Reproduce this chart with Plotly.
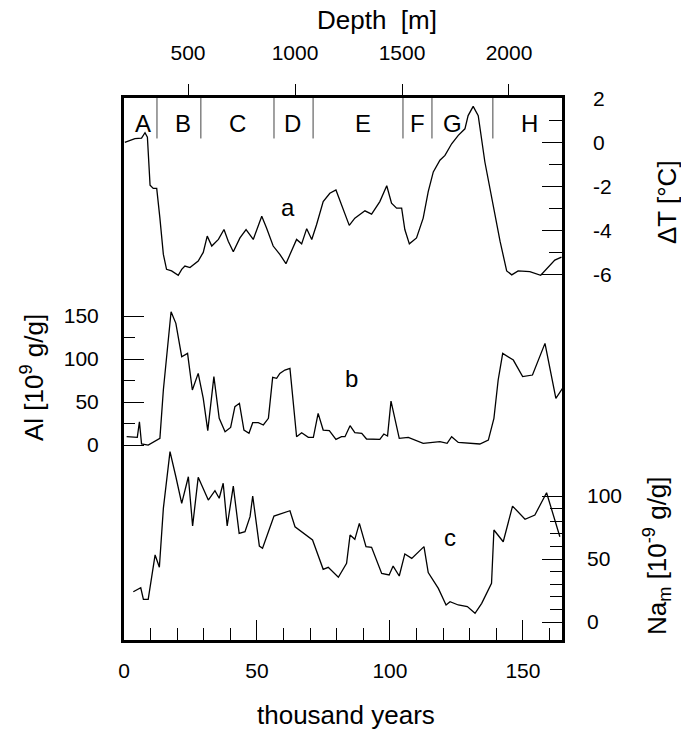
import plotly.graph_objects as go

# ---------------- data ----------------
# a: temperature anomaly dT [deg C] vs age [kyr]
t_dT = [0.3, 4.1, 6.6, 7.9, 8.8, 9.8, 11.0, 12.3, 13.5, 14.8, 16.0, 17.9, 20.4, 21.7, 22.9,
        24.8, 27.9, 29.8, 31.3, 33.0, 35.5, 37.6, 39.2, 41.1, 43.6, 45.9, 48.6, 51.8, 53.6,
        56.1, 58.6, 60.9, 62.4, 64.9, 66.8, 68.7, 70.6, 72.4, 74.9, 77.4, 79.7, 81.8, 84.7,
        86.8, 90.6, 93.1, 96.2, 98.8, 100.6, 102.5, 104.4, 105.6, 107.3, 110.0, 112.5, 114.4,
        116.3, 118.8, 120.7, 123.2, 125.7, 128.2, 129.4, 131.3, 133.2, 135.7, 138.8, 141.4,
        143.9, 145.8, 148.2, 152.6, 156.7, 158.9, 162.0, 164.5]
dT = [0.0, 0.17, 0.2, 0.44, 0.24, -1.94, -2.09, -2.09, -3.44, -5.09, -5.77, -5.84, -6.04,
      -5.77, -5.62, -5.69, -5.39, -5.0, -4.26, -4.71, -4.41, -3.96, -4.49, -4.97, -4.34,
      -3.96, -4.41, -3.36, -3.89, -4.71, -5.09, -5.51, -5.09, -4.41, -4.61, -3.92, -4.41,
      -3.74, -2.69, -2.31, -2.16, -2.84, -3.77, -3.44, -3.11, -3.26, -2.69, -1.97, -2.76,
      -2.99, -2.99, -3.96, -4.61, -4.34, -3.44, -2.24, -1.34, -0.81, -0.59, -0.06, 0.32,
      0.62, 1.22, 1.64, 1.22, -0.89, -2.84, -4.49, -5.84, -6.02, -5.84, -5.87, -6.04,
      -5.77, -5.35, -5.21]

# b: Al concentration [1e9 g/g]
t_al = [1.0, 5.0, 5.8, 6.6, 9.1, 12.3, 13.5, 14.8, 16.0, 17.7, 19.5, 21.7, 23.9, 25.7, 27.9,
        29.8, 31.5, 33.8, 35.8, 38.0, 40.1, 41.7, 43.4, 45.1, 47.0, 48.4, 50.5, 52.4, 54.3,
        55.9, 57.4, 58.6, 60.5, 62.4, 64.9, 66.8, 69.3, 71.2, 73.0, 74.9, 77.2, 79.7, 81.8,
        83.1, 85.0, 86.8, 89.4, 91.2, 96.2, 97.7, 99.1, 100.4, 103.5, 106.9, 112.5, 118.8,
        121.5, 123.2, 125.7, 133.8, 137.0, 139.1, 140.7, 142.4, 146.4, 149.9, 153.6, 158.3,
        162.4, 164.9]
al = [9.7, 8.9, 27, 1.2, 0, 5, 7.8, 64, 99, 155, 141.5, 102.7, 106.6, 64, 83.3, 54.3, 16.7,
      79.5, 31, 15.5, 20.5, 44.6, 48.5, 17.4, 13.6, 26, 26, 23.3, 31, 78.7, 77.5, 83.3, 87.2,
      89.1, 9.7, 14.3, 8.9, 8.9, 36.8, 17.4, 16.7, 6.6, 9.7, 9.7, 22.5, 14.3, 13.6, 7, 6.6,
      12.8, 10.5, 51, 7.8, 8.9, 2, 3.9, 2, 9.7, 3, 1.2, 5.8, 31, 75.6, 106.6, 98.8, 79.5,
      81.4, 118.2, 54.3, 65.9]

# c: marine Na [1e-9 g/g]
t_na = [3.5, 6.3, 7.3, 9.1, 11.7, 13.3, 14.8, 17.3, 19.5, 21.7, 24.2, 25.8, 27.9, 31.7, 34.2,
        35.8, 37.3, 38.8, 41.1, 43.3, 45.5, 47.4, 48.4, 49.9, 50.9, 52.1, 56.4, 62.4, 64.3,
        70.9, 74.9, 76.8, 80.6, 83.7, 85.0, 86.8, 88.5, 91.0, 93.1, 96.9, 99.7, 101.2, 103.5,
        105.6, 108.2, 112.8, 114.4, 118.2, 121.1, 122.6, 125.7, 129.1, 132.0, 134.5, 138.2,
        139.1, 142.6, 146.1, 150.8, 154.5, 158.9, 163.9]
na = [24, 27.2, 18, 18, 53.2, 43.4, 90.2, 135.2, 115.3, 94.2, 115.3, 76.2, 114.8, 96.8, 104.2,
      98.2, 110.1, 76.2, 107.9, 70.4, 71.7, 83.6, 100, 75.6, 60.3, 58.5, 84.1, 88.3, 75.6,
      65.1, 41.8, 43.4, 35.5, 46.6, 69, 65.6, 78.3, 59.8, 59.3, 38.6, 37.3, 44.4, 36.5, 54,
      50.5, 59.8, 39.2, 26.7, 13.5, 16.1, 13.5, 12.2, 6.9, 14.8, 30.7, 73, 63.7, 92, 81.5,
      84.9, 102.6, 67.7]

# climatic zones (age of boundaries, letter positions)
zone_bounds = [12.4, 28.9, 56.4, 71.1, 104.9, 115.8, 138.7]
zone_letters = ["A", "B", "C", "D", "E", "F", "G", "H"]
zone_centers = [7.1, 22.2, 42.5, 63.5, 89.8, 110.2, 123.7, 152.6]

# tick values
age_ticks = [0, 50, 100, 150]
age_minor = [10, 20, 30, 40, 60, 70, 80, 90, 110, 120, 130, 140, 160]
depth_ticks = [500, 1000, 1500, 2000]
al_ticks = [0, 50, 100, 150]
al_minor = [25, 75, 125]
dT_ticks = [2, 0, -2, -4, -6]
dT_minor = [1, -1, -3, -5]
na_ticks = [0, 50, 100]
na_minor = [10, 20, 30, 40, 60, 70, 80, 90]

# ---------------- figure ----------------
FONT = "Liberation Sans, Arial, Helvetica, sans-serif"
W, H = 681, 731
ML, MR, MT, MB = 124, 119, 98, 91
PW, PH = W - ML - MR, H - MT - MB


def px(xp, yp):
    """pixel position in the page -> paper coordinates of the plot area"""
    return (xp - ML) / PW, 1 - (yp - MT) / PH


line = dict(color="black", width=1.3)

fig = go.Figure()
fig.add_trace(go.Scatter(x=t_al, y=al, mode="lines", line=line, xaxis="x", yaxis="y",
                         showlegend=False, hoverinfo="skip"))
fig.add_trace(go.Scatter(x=t_dT, y=dT, mode="lines", line=line, xaxis="x", yaxis="y2",
                         showlegend=False, hoverinfo="skip"))
fig.add_trace(go.Scatter(x=t_na, y=na, mode="lines", line=line, xaxis="x", yaxis="y3",
                         showlegend=False, hoverinfo="skip"))
# invisible trace so the depth axis is drawn
fig.add_trace(go.Scatter(x=depth_ticks, y=[0] * len(depth_ticks), mode="markers",
                         marker=dict(opacity=0), xaxis="x2", yaxis="y",
                         showlegend=False, hoverinfo="skip"))

tickfont = dict(family=FONT, size=21, color="black")

fig.update_layout(
    width=W, height=H,
    margin=dict(l=ML, r=MR, t=MT, b=MB, autoexpand=False),
    paper_bgcolor="white", plot_bgcolor="white",
    font=dict(family=FONT, color="black"),
    xaxis=dict(range=[0, 164.7], tickvals=age_ticks, ticks="inside", ticklen=20, tickwidth=1.3,
               tickcolor="black", showgrid=False, zeroline=False, showline=True, linewidth=2.5,
               linecolor="black", tickfont=tickfont, ticklabelstandoff=10, automargin=False,
               minor=dict(tickvals=age_minor, ticks="inside", ticklen=12, tickwidth=1.2,
                          tickcolor="black", showgrid=False)),
    xaxis2=dict(range=[200.9, 2247.7], overlaying="x", side="top", anchor="y",
                tickvals=depth_ticks, ticks="outside", ticklen=11, tickwidth=1.2,
                tickcolor="black", showgrid=False, zeroline=False, showline=True, linewidth=2.5,
                linecolor="black", tickfont=tickfont, ticklabelstandoff=16, automargin=False),
    yaxis=dict(range=[-226.7, 403.5], tickvals=al_ticks, ticks="inside", ticklen=20,
               tickwidth=1.3, tickcolor="black", showgrid=False, zeroline=False, showline=True,
               linewidth=3, linecolor="black", tickfont=tickfont, ticklabelstandoff=18,
               automargin=False,
               minor=dict(tickvals=al_minor, ticks="inside", ticklen=11, tickwidth=1.2,
                          tickcolor="black", showgrid=False)),
    yaxis2=dict(range=[-22.62, 2.02], overlaying="y", side="right", anchor="x",
                tickvals=dT_ticks, ticktext=["2", "0", "-2", "-4", "-6"], ticks="inside",
                ticklen=20, tickwidth=1.3, tickcolor="black", showgrid=False, zeroline=False,
                showline=True, linewidth=2.5, linecolor="black", tickfont=tickfont,
                ticklabelstandoff=24, automargin=False,
                minor=dict(tickvals=dT_minor, ticks="inside", ticklen=13, tickwidth=1.2,
                           tickcolor="black", showgrid=False)),
    yaxis3=dict(range=[-14.29, 415.9], overlaying="y", side="right", anchor="x",
                tickvals=na_ticks, ticks="inside", ticklen=20, tickwidth=1.3, tickcolor="black",
                showgrid=False, zeroline=False, showline=False, tickfont=tickfont,
                ticklabelstandoff=24, automargin=False,
                minor=dict(tickvals=na_minor, ticks="inside", ticklen=12, tickwidth=1.2,
                           tickcolor="black", showgrid=False)),
)

# zone dividers at top of panel a
for b in zone_bounds:
    fig.add_shape(type="line", xref="x", yref="y2", x0=b, x1=b, y0=0.18, y1=2.02,
                  line=dict(color="#444", width=1))

annots = []
for lab, xc in zip(zone_letters, zone_centers):
    annots.append(dict(x=xc, y=0.86, xref="x", yref="y2", text=lab, showarrow=False,
                       font=dict(family=FONT, size=24, color="black")))

# curve labels
annots.append(dict(x=61.5, y=-2.95, xref="x", yref="y2", text="a", showarrow=False,
                   font=dict(family=FONT, size=24)))
annots.append(dict(x=85.6, y=77, xref="x", yref="y", text="b", showarrow=False,
                   font=dict(family=FONT, size=24)))
annots.append(dict(x=122.5, y=67, xref="x", yref="y3", text="c", showarrow=False,
                   font=dict(family=FONT, size=24)))

# axis titles
tfont = dict(family=FONT, size=26, color="black")


def title(text, xp, yp, angle=0):
    x, y = px(xp, yp)
    return dict(x=x, y=y, xref="paper", yref="paper", text=text, showarrow=False,
                font=tfont, textangle=angle, xanchor="center", yanchor="middle")


annots.append(title("thousand years", 346, 715))
annots.append(title("Depth  [m]", 377, 20))
annots.append(title("Al [10<sup>9</sup> g/g]", 32, 378, -90))
annots.append(title("\u0394T [\u00b0C]", 667, 202, -90))
annots.append(title("Na<sub>m</sub> [10<sup>-9</sup> g/g]", 657, 556, -90))

fig.update_layout(annotations=annots)

fig.write_html(
    "out.html",
    config={"displayModeBar": False},
    post_script="document.body.style.margin='0';document.body.style.overflow='hidden';",
)
